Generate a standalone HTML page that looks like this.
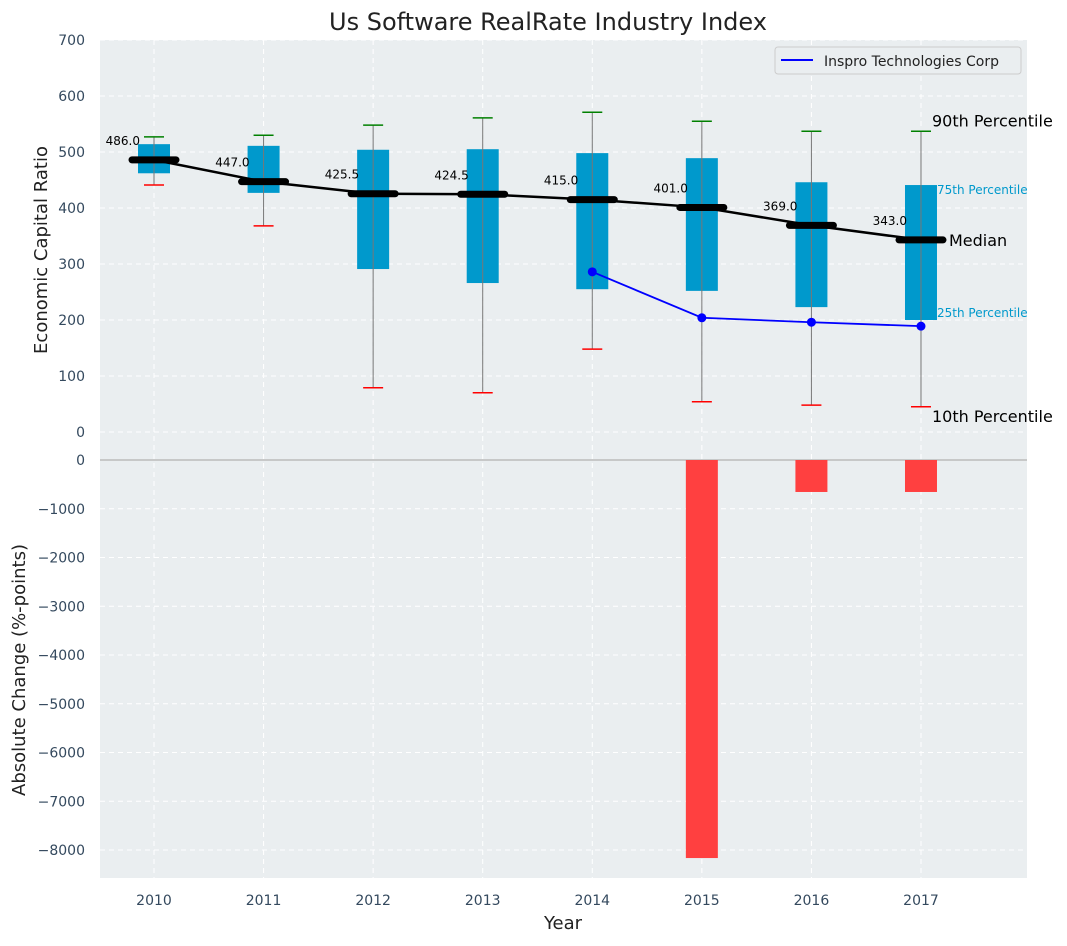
<!DOCTYPE html>
<html><head><meta charset="utf-8"><style>
body{margin:0;background:#fff;font-family:"DejaVu Sans","Liberation Sans",sans-serif;}
svg text{font-family:"DejaVu Sans","Liberation Sans",sans-serif;}
</style></head><body>
<svg id="chart" width="1067" height="942" xmlns="http://www.w3.org/2000/svg">
<rect x="100" y="40" width="927" height="838" fill="#eaeef0"/>
<g id="grid"></g>
<g id="top"></g>
<g id="bottom"></g>
<text x="548" y="30" font-size="24" text-anchor="middle" fill="#222">Us Software RealRate Industry Index</text>
<text x="47" y="250" font-size="18" text-anchor="middle" fill="#222" transform="rotate(-90 47 250)">Economic Capital Ratio</text>
<text x="25" y="670" font-size="18" text-anchor="middle" fill="#222" transform="rotate(-90 25 670)">Absolute Change (%-points)</text>
<text x="563" y="929" font-size="18" text-anchor="middle" fill="#222">Year</text>
<g>
<rect x="775" y="47" width="246" height="27" rx="3" fill="#eaeef0" stroke="#ccc"/>
<line x1="781" y1="60" x2="813" y2="60" stroke="#0000ff" stroke-width="2"/>
<text x="824" y="66" font-size="14" fill="#222">Inspro Technologies Corp</text>
</g>
</svg>
<script>
const years=["2010","2011","2012","2013","2014","2015","2016","2017"];
const p10=[441,368,79,70,148,54,48,45];
const p25=[462,427,291,266,255,252,223,200];
const medians=[486,447,425.5,424.5,415,401,369,343];
const p75=[514,511,504,505,498,489,446,441];
const p90=[527,530,548,561,571,555,537,537];
const companyYears=[4,5,6,7];
const companyValues=[286,204,196,189];
const changes=[0,0,0,0,0,-8165,-656,-656];
const topTicks=[0,100,200,300,400,500,600,700];
const bottomTicks=[0,-1000,-2000,-3000,-4000,-5000,-6000,-7000,-8000];

const NS="http://www.w3.org/2000/svg";
const xs=i=>154+i*109.57;
const yT=v=>432-v*0.56;
const yB=v=>460-v*0.04875;
function mk(parent,tag,attrs,txt){const e=document.createElementNS(NS,tag);for(const k in attrs)e.setAttribute(k,attrs[k]);if(txt!==undefined)e.textContent=txt;document.getElementById(parent).appendChild(e);return e;}

topTicks.forEach(t=>{
  const l=mk('grid','line',{x1:100,x2:1027,y1:yT(t),y2:yT(t),stroke:'#fff','stroke-dasharray':'5,4','stroke-width':1});
  
  
  const tx=mk('grid','text',{x:85,y:yT(t)+5,'font-size':14,'text-anchor':'end',fill:'#34495e'},String(t));
  
  
});
bottomTicks.forEach(t=>{
  const l=mk('grid','line',{x1:100,x2:1027,y1:yB(t),y2:yB(t),stroke:'#fff','stroke-dasharray':'5,4','stroke-width':1});
  
  
  const tx=mk('grid','text',{x:85,y:yB(t)+5,'font-size':14,'text-anchor':'end',fill:'#34495e'},String(t).replace('-','\u2212'));
  
  
});
years.forEach((y,i)=>{
  const l=mk('grid','line',{x1:xs(i),x2:xs(i),y1:40,y2:878,stroke:'#fff','stroke-dasharray':'5,4','stroke-width':1});
  
  
  const tx=mk('grid','text',{x:xs(i),y:905,'font-size':14,'text-anchor':'middle',fill:'#34495e'},y);
  
  
});
const zl=mk('grid','line',{x1:100,x2:1027,y1:yB(0),y2:yB(0),stroke:'#bbb','stroke-width':1.5});



years.forEach((y,i)=>{
  const x=xs(i);
  const b=mk('top','rect',{x:x-16,y:yT(p75[i]),width:32,height:yT(p25[i])-yT(p75[i]),fill:'#0099cc'});
  
  
  const w=mk('top','line',{x1:x,x2:x,y1:yT(p90[i]),y2:yT(p10[i]),stroke:'#777','stroke-width':1});
  
  
  const c1=mk('top','line',{x1:x-10,x2:x+10,y1:yT(p90[i]),y2:yT(p90[i]),stroke:'green','stroke-width':1.5});
  
  
  const c2=mk('top','line',{x1:x-10,x2:x+10,y1:yT(p10[i]),y2:yT(p10[i]),stroke:'red','stroke-width':1.5});
  
  
});
const mp=mk('top','polyline',{points:medians.map((m,i)=>xs(i)+','+yT(m)).join(' '),fill:'none',stroke:'#000','stroke-width':2.5});


medians.forEach((m,i)=>{
  const x=xs(i);
  const l=mk('top','line',{x1:x-22,x2:x+22,y1:yT(m),y2:yT(m),stroke:'#000','stroke-width':7,'stroke-linecap':'round'});
  
  
  const t=mk('top','text',{x:x-14,y:yT(m)-15,'font-size':12,'text-anchor':'end',fill:'#000'},m.toFixed(1));
  
  
});
const cl=mk('top','polyline',{points:companyYears.map((c,j)=>xs(c)+','+yT(companyValues[j])).join(' '),fill:'none',stroke:'#0000ff','stroke-width':1.8});


companyYears.forEach((c,j)=>{
  const p=mk('top','circle',{cx:xs(c),cy:yT(companyValues[j]),r:4.5,fill:'#0000ff'});
  
  
});
const L=7,xl=xs(L);
const a1=mk('top','text',{x:xl+11,y:yT(p90[L])-5,'font-size':16,fill:'#000'},'90th Percentile');


const a2=mk('top','text',{x:xl+16,y:yT(p75[L])+9,'font-size':12,fill:'#0099cc'},'75th Percentile');


const a3=mk('top','text',{x:xl+28,y:yT(medians[L])+6,'font-size':16,fill:'#000'},'Median');


const a4=mk('top','text',{x:xl+16,y:yT(p25[L])-3,'font-size':12,fill:'#0099cc'},'25th Percentile');


const a5=mk('top','text',{x:xl+11,y:yT(p10[L])+15,'font-size':16,fill:'#000'},'10th Percentile');



changes.forEach((v,i)=>{
  if(v===0)return;
  const r=mk('bottom','rect',{x:xs(i)-16,y:Math.min(yB(0),yB(v)),width:32,height:Math.abs(yB(v)-yB(0)),fill:'#ff4040'});
  
  
});
</script>
</body></html>
